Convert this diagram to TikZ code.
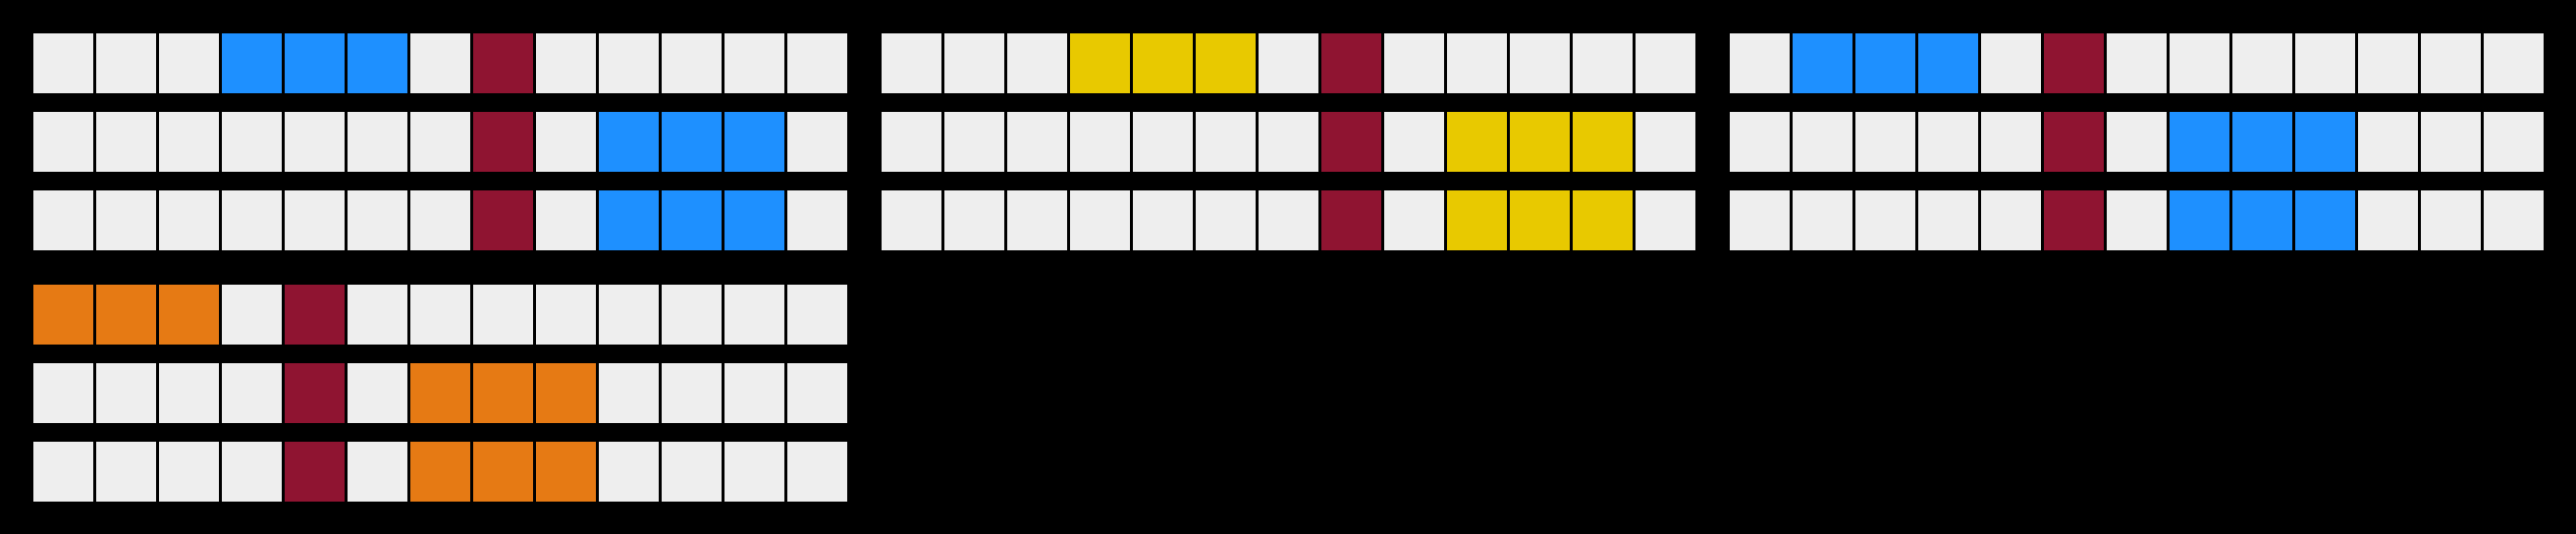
\documentclass[tikz,border=0pt]{standalone}
\usetikzlibrary{positioning}

\definecolor{cellgrey}{HTML}{EEEEEE}
\definecolor{cellblue}{HTML}{1E90FF}
\definecolor{cellred}{HTML}{8F1431}
\definecolor{cellyellow}{HTML}{E8C900}
\definecolor{cellorange}{HTML}{E67A14}

\tikzset{
  cell/.style={rectangle, draw=none, inner sep=0pt,
    minimum width=15.25mm, minimum height=15.25mm}
}

% one row of 13 cells: x, y, name, colour, first coloured cell, marked cell
\newcommand{\cellstrip}[6]{%
  \foreach \i in {0,...,12} {
    \def\col{cellgrey}
    \ifnum\i=#6 \def\col{cellred}\fi
    \ifnum\i<#5 \else \ifnum\i>\numexpr#5+2\relax \else \def\col{#4}\fi\fi
    \node[cell, fill=\col] (#3-\i) at (#1+\i*64, #2) {};
  }
}

\begin{document}
\begin{tikzpicture}[x=0.25mm, y=-0.25mm]
  \fill[black] (0,0) rectangle (2624,544);
  \useasboundingbox (0,0) rectangle (2624,544);

  % first panel
  \cellstrip{64.5}{64.5}{a1}{cellblue}{3}{7}
  \cellstrip{64.5}{144.5}{a2}{cellblue}{9}{7}
  \cellstrip{64.5}{224.5}{a3}{cellblue}{9}{7}

  % second panel
  \cellstrip{928.5}{64.5}{b1}{cellyellow}{3}{7}
  \cellstrip{928.5}{144.5}{b2}{cellyellow}{9}{7}
  \cellstrip{928.5}{224.5}{b3}{cellyellow}{9}{7}

  % third panel
  \cellstrip{1792.5}{64.5}{c1}{cellblue}{1}{5}
  \cellstrip{1792.5}{144.5}{c2}{cellblue}{7}{5}
  \cellstrip{1792.5}{224.5}{c3}{cellblue}{7}{5}

  % fourth panel
  \cellstrip{64.5}{320.5}{d1}{cellorange}{0}{4}
  \cellstrip{64.5}{400.5}{d2}{cellorange}{6}{4}
  \cellstrip{64.5}{480.5}{d3}{cellorange}{6}{4}
\end{tikzpicture}
\end{document}
